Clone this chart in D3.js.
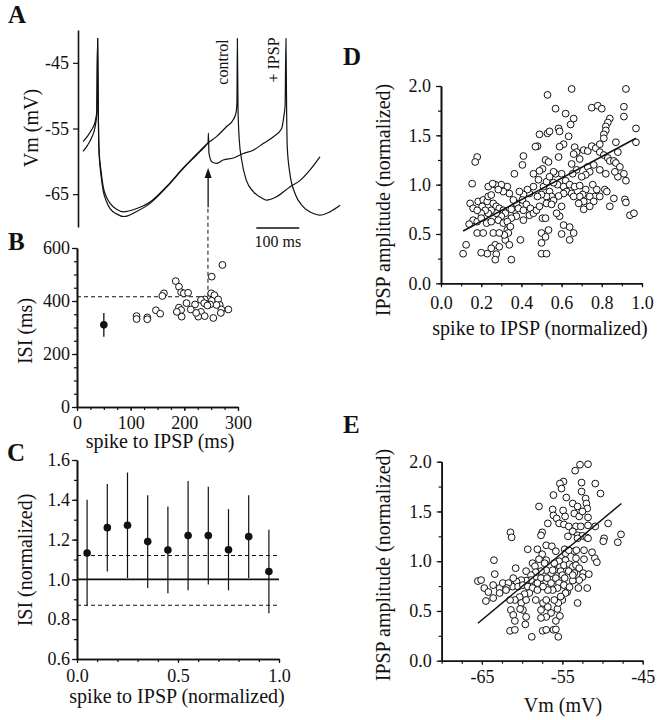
<!DOCTYPE html>
<html><head><meta charset="utf-8">
<script src="https://cdn.jsdelivr.net/npm/d3@7"></script>
<style>
body{margin:0;background:#fff}
svg{display:block}
text{font-family:"Liberation Serif","Times New Roman",serif;fill:#111}
</style>
</head><body>
<svg id="c" width="659" height="720"></svg>
<script>
// ---------- DATA ----------
// Panel A: membrane potential traces [time ms, Vm mV]
const controlTrace = [[0,-57.0],[10,-56.2],[20,-55.2],[28,-54.0],[32,-52.5],[34,-41.3],[35.5,-52],[37,-57.8],[42,-61.5],[47,-63.9],[55,-65.5],[63,-66.4],[78,-67.3],[95,-67.7],[104,-67.6],[120,-67.3],[156,-66.2],[195,-63.8],[233,-61.0],[272,-58.4],[291,-57.2],[311,-56.2],[334,-54.7],[350,-53.6],[356,-52.6],[358,-51],[359,-41.3],[360.5,-52],[363.5,-56.8],[369,-59.8],[380,-62.9],[396,-64.6],[419,-65.7],[427,-65.9],[450,-65.4],[481,-63.9],[505,-62.9],[528,-61.3],[551,-59.3]];
const ipspTrace = [[0,-58.5],[10,-57.6],[20,-56.4],[28,-54.8],[32,-52.8],[34,-41.3],[35.5,-52],[37,-58.2],[42,-62.2],[47,-64.5],[55,-66.2],[63,-67.2],[78,-68.0],[95,-68.4],[104,-68.3],[120,-67.8],[156,-66.4],[195,-63.9],[233,-61.1],[272,-58.5],[289,-57.3],[291,-57.1],[291.6,-55.7],[293,-58.8],[300,-60.1],[311,-60.3],[326,-59.8],[350,-59.5],[373,-58.8],[396,-58.3],[419,-57.3],[443,-56.25],[462,-55.0],[467,-53.2],[470,-51.5],[472,-41.3],[473.5,-52],[475,-57.8],[481,-61.8],[493,-64.9],[512,-66.9],[536,-67.95],[551,-68.2],[574,-67.7],[598,-66.7]];
const aTicks = [-45,-55,-65];
const aTickLabels = ["-45","-55","-65"];
const aIpspTime = 291;            // ms, time of IPSP (arrow)
const aArrowVm = [-67, -61];      // arrow shaft from / tip to (mV)
const aScaleBar = [403, 503];     // 100 ms scale bar (ms)
const aScaleBarVm = -70;

// Panel B: ISI vs spike-to-IPSP (ms)
const bOpen = [[271,536],[251,492],[184,475],[190,454],[194,433],[199,429],[207,431],[162,429],[159,419],[250,429],[256,422],[238,406],[231,404],[251,401],[263,406],[266,385],[282,368],[269,368],[260,385],[248,387],[237,392],[220,387],[204,392],[190,375],[194,366],[212,368],[231,359],[226,341],[238,343],[254,336],[268,355],[195,341],[147,365],[155,352],[111,343],[111,332],[131,338],[131,331],[186,359],[243,383],[222,355]];
const bControl = {x:50, y:310, err:45};
const bHighlight = [244, 416];

// Panel C: normalized ISI vs normalized spike-to-IPSP
const cX = [0.05,0.15,0.25,0.35,0.45,0.55,0.65,0.75,0.85,0.95];
const cMean = [1.133,1.26,1.272,1.19,1.148,1.22,1.22,1.149,1.215,1.04];
const cErr = [0.267,0.22,0.265,0.233,0.218,0.275,0.245,0.204,0.208,0.21];
const cBaseline = 1.0;
const cBand = [1.12, 0.87];

// Panel D: IPSP amplitude vs normalized spike-to-IPSP
const dPoints = [[0.53,1.91],[0.65,1.97],[0.92,1.97],[0.57,1.77],[0.75,1.78],[0.78,1.80],[0.80,1.77],[0.62,1.72],[0.66,1.67],[0.645,1.61],[0.91,1.79],[0.91,1.69],[0.84,1.67],[0.83,1.63],[0.82,1.59],[0.82,1.55],[0.81,1.51],[0.81,1.47],[0.49,1.51],[0.53,1.52],[0.54,1.54],[0.585,1.57],[0.59,1.54],[0.635,1.49],[0.61,1.41],[0.97,1.57],[0.97,1.43],[0.48,1.39],[0.47,1.385],[0.59,1.385],[0.585,1.28],[0.665,1.38],[0.675,1.33],[0.66,1.31],[0.69,1.26],[0.71,1.35],[0.73,1.34],[0.75,1.39],[0.77,1.37],[0.79,1.41],[0.79,1.33],[0.81,1.30],[0.83,1.27],[0.84,1.24],[0.86,1.24],[0.87,1.43],[0.88,1.33],[0.87,1.22],[0.89,1.18],[0.88,1.08],[0.91,1.11],[0.92,1.04],[0.82,1.11],[0.865,1.13],[0.79,1.15],[0.76,1.20],[0.73,1.18],[0.74,1.13],[0.72,1.10],[0.70,1.08],[0.675,1.15],[0.65,1.21],[0.655,1.11],[0.62,1.04],[0.60,1.11],[0.57,1.11],[0.56,1.13],[0.58,1.00],[0.61,0.98],[0.64,1.00],[0.625,0.93],[0.65,0.91],[0.665,0.98],[0.69,0.99],[0.72,0.95],[0.755,1.00],[0.775,0.95],[0.765,0.88],[0.74,0.88],[0.705,0.90],[0.69,0.88],[0.71,0.83],[0.71,0.75],[0.685,0.81],[0.66,0.88],[0.79,0.88],[0.815,0.95],[0.825,0.93],[0.86,0.86],[0.84,0.78],[0.915,0.85],[0.92,0.82],[0.94,0.69],[0.96,0.71],[0.76,0.83],[0.74,0.78],[0.61,0.91],[0.585,0.885],[0.60,0.78],[0.59,0.68],[0.61,0.59],[0.60,0.50],[0.64,0.57],[0.66,0.51],[0.64,0.44],[0.51,0.98],[0.525,1.03],[0.54,1.08],[0.56,1.02],[0.54,0.93],[0.55,0.88],[0.56,0.84],[0.525,0.88],[0.50,0.90],[0.48,0.88],[0.485,1.05],[0.505,1.16],[0.52,1.25],[0.535,1.23],[0.49,1.14],[0.46,1.11],[0.41,1.29],[0.405,1.20],[0.365,1.11],[0.46,0.98],[0.44,0.91],[0.43,0.95],[0.41,0.90],[0.405,0.845],[0.39,0.93],[0.375,0.81],[0.36,0.845],[0.365,0.74],[0.385,0.76],[0.41,0.74],[0.425,0.80],[0.445,0.76],[0.44,0.69],[0.46,0.71],[0.475,0.74],[0.49,0.78],[0.505,0.66],[0.52,0.66],[0.50,0.51],[0.52,0.47],[0.535,0.54],[0.50,0.41],[0.50,0.30],[0.525,0.30],[0.395,0.44],[0.41,0.64],[0.375,0.68],[0.35,0.66],[0.35,0.75],[0.34,0.91],[0.33,0.98],[0.31,0.93],[0.30,1.00],[0.27,1.00],[0.285,0.95],[0.235,0.98],[0.257,1.01],[0.155,1.01],[0.18,1.28],[0.17,1.23],[0.145,0.81],[0.16,0.76],[0.185,0.83],[0.21,0.845],[0.205,0.78],[0.23,0.83],[0.235,0.88],[0.25,0.895],[0.26,0.81],[0.275,0.78],[0.29,0.76],[0.31,0.74],[0.32,0.71],[0.30,0.68],[0.275,0.71],[0.25,0.74],[0.235,0.71],[0.22,0.74],[0.20,0.71],[0.18,0.74],[0.16,0.64],[0.18,0.625],[0.20,0.66],[0.227,0.61],[0.25,0.625],[0.285,0.64],[0.31,0.61],[0.33,0.54],[0.33,0.625],[0.345,0.575],[0.335,0.51],[0.32,0.44],[0.315,0.49],[0.34,0.39],[0.35,0.24],[0.18,0.51],[0.21,0.51],[0.14,0.60],[0.26,0.51],[0.29,0.51],[0.27,0.39],[0.25,0.355],[0.23,0.30],[0.275,0.295],[0.27,0.24],[0.20,0.31],[0.125,0.39],[0.11,0.30],[0.29,0.37],[0.575,0.71],[0.525,0.81],[0.55,0.80]];
const dFitX = [0.11, 0.97];
const dFitY = [0.53, 1.47];

// Panel E: IPSP amplitude vs Vm
const ePoints = [[-52.8,1.97],[-51.8,1.975],[-53.4,1.91],[-54.85,1.80],[-55.3,1.78],[-55.1,1.73],[-52.6,1.79],[-50.9,1.78],[-50.25,1.68],[-52.6,1.70],[-56.1,1.665],[-54.5,1.64],[-53.7,1.58],[-53.1,1.55],[-52.1,1.63],[-52.0,1.58],[-51.9,1.53],[-56.2,1.52],[-56.1,1.46],[-55.7,1.43],[-57.9,1.55],[-54.9,1.51],[-54.65,1.45],[-53.5,1.48],[-52.9,1.45],[-52.5,1.50],[-51.8,1.44],[-55.4,1.38],[-54.8,1.37],[-54.2,1.35],[-53.3,1.35],[-52.7,1.35],[-49.3,1.38],[-51.8,1.36],[-56.8,1.38],[-57.5,1.29],[-57.65,1.26],[-54.3,1.25],[-53.7,1.30],[-53.1,1.26],[-52.5,1.255],[-52.0,1.24],[-50.9,1.35],[-53.1,1.23],[-51.8,1.23],[-49.8,1.23],[-49.9,1.20],[-47.7,1.27],[-48.1,1.19],[-61.45,1.29],[-61.3,1.24],[-59.3,1.12],[-58.1,1.12],[-57.0,1.16],[-56.3,1.15],[-55.8,1.10],[-54.7,1.12],[-54.6,1.08],[-53.5,1.10],[-53.25,1.11],[-52.3,1.11],[-51.3,1.09],[-50.95,1.03],[-50.7,0.99],[-52.3,1.02],[-53.3,1.03],[-54.6,1.01],[-55.4,1.00],[-56.0,0.98],[-57.0,1.01],[-57.5,1.07],[-57.9,1.02],[-57.2,0.98],[-58.7,0.98],[-58.4,0.95],[-55.3,0.94],[-54.8,0.96],[-54.1,0.97],[-53.7,0.945],[-53.3,0.96],[-52.9,0.93],[-55.2,0.90],[-54.2,0.90],[-53.5,0.88],[-52.4,0.88],[-51.7,0.87],[-52.5,0.84],[-52.9,0.81],[-53.7,0.805],[-53.0,0.73],[-51.9,0.73],[-53.1,0.58],[-56.0,0.91],[-56.4,0.88],[-57.0,0.91],[-57.65,0.90],[-58.3,0.89],[-58.9,0.86],[-59.5,0.90],[-57.65,0.83],[-57.0,0.795],[-56.4,0.78],[-55.8,0.83],[-55.4,0.78],[-54.8,0.76],[-54.4,0.69],[-55.6,0.73],[-56.2,0.71],[-56.8,0.71],[-57.4,0.745],[-58.3,0.78],[-58.9,0.81],[-59.5,0.805],[-60.1,0.81],[-60.7,0.795],[-61.2,0.745],[-60.5,0.745],[-59.9,0.76],[-59.3,0.745],[-58.7,0.73],[-58.1,0.71],[-59.1,0.68],[-59.7,0.67],[-60.3,0.64],[-60.9,0.61],[-60.1,0.58],[-59.5,0.61],[-58.3,0.61],[-57.4,0.58],[-56.8,0.54],[-57.65,0.51],[-55.6,0.52],[-56.4,0.48],[-57.0,0.44],[-57.65,0.43],[-55.8,0.40],[-55.3,0.45],[-61.4,0.51],[-61.1,0.46],[-59.9,0.51],[-59.5,0.44],[-60.25,0.52],[-60.9,0.40],[-59.6,0.365],[-61.5,0.30],[-60.9,0.31],[-58.8,0.24],[-57.45,0.30],[-57.0,0.31],[-56.1,0.31],[-55.5,0.24],[-55.8,0.315],[-65.5,0.80],[-65.1,0.81],[-64.7,0.73],[-64.2,0.69],[-64.5,0.60],[-63.6,0.63],[-63.5,1.01],[-63.4,0.87],[-63.6,0.76],[-62.8,0.73],[-62.4,0.78],[-61.7,0.78],[-61.9,0.73],[-62.8,0.68],[-60.8,0.93],[-61.1,0.83],[-62.0,0.71],[-61.5,0.61],[-55.0,0.86],[-54.7,0.83],[-54.6,0.68],[-55.0,0.61],[-55.2,0.645],[-55.5,0.58],[-56.0,0.61],[-58.1,0.78],[-57.0,0.61],[-56.2,0.91],[-54.2,1.11],[-56.9,0.83],[-53.7,0.86],[-54.1,0.74]];
const eFitX = [-65.5, -47.65];
const eFitY = [0.376, 1.58];

// ---------- DRAW ----------
const svg = d3.select("#c");
const INK = "#111";
const TICK_FS = 18, TITLE_FS = 20;

function yAxis(scale, x, major, minor, fmt, gap){
  const gm = svg.append("g").attr("transform",`translate(${x},0)`);
  if(minor) gm.call(d3.axisLeft(scale).tickValues(minor).tickSize(3).tickSizeOuter(0).tickFormat(""));
  const g = svg.append("g").attr("transform",`translate(${x},0)`)
    .call(d3.axisLeft(scale).tickValues(major).tickSize(5).tickSizeOuter(0).tickPadding(gap-5).tickFormat(fmt));
  [gm,g].forEach(s=>{ s.selectAll(".domain").attr("stroke",INK).attr("stroke-width",1.6);
    s.selectAll(".tick line").attr("stroke",INK).attr("stroke-width",1.2);
    s.selectAll(".tick text").attr("font-size",TICK_FS).attr("font-family","Liberation Serif").attr("fill",INK);});
}
function xAxis(scale, y, major, minor, fmt, pad){
  const gm = svg.append("g").attr("transform",`translate(0,${y})`);
  if(minor) gm.call(d3.axisBottom(scale).tickValues(minor).tickSize(3).tickSizeOuter(0).tickFormat(""));
  const g = svg.append("g").attr("transform",`translate(0,${y})`)
    .call(d3.axisBottom(scale).tickValues(major).tickSize(4).tickSizeOuter(0).tickPadding(pad).tickFormat(fmt));
  [gm,g].forEach(s=>{ s.selectAll(".domain").attr("stroke",INK).attr("stroke-width",1.6);
    s.selectAll(".tick line").attr("stroke",INK).attr("stroke-width",1.2);
    s.selectAll(".tick text").attr("font-size",TICK_FS).attr("font-family","Liberation Serif").attr("fill",INK);});
}
function title(txt, x, y, rot, fs){
  svg.append("text").attr("transform",`translate(${x},${y}) rotate(${rot||0})`)
    .attr("text-anchor","middle").attr("dominant-baseline","middle")
    .attr("font-size",fs||TITLE_FS).text(txt);
}
function letter(txt,x,y){
  svg.append("text").attr("x",x).attr("y",y).attr("font-size",25).attr("font-weight","bold").text(txt);
}
const rng = (a,b,s)=>d3.range(a,b+s/2,s);

// ----- Panel A -----
const xA = d3.scaleLinear().domain([0,600]).range([83,341]);
const yA = d3.scaleLinear().domain([-70,-40]).range([227,30]);
yAxis(yA, 78, aTicks, null, (d,i)=>aTickLabels[i], 9);
const lineA = d3.line().x(d=>xA(d[0])).y(d=>yA(d[1])).curve(d3.curveMonotoneX);
[controlTrace, ipspTrace].forEach(tr=>{
  svg.append("path").attr("d",lineA(tr)).attr("fill","none").attr("stroke",INK).attr("stroke-width",1.2);
});
title("Vm (mV)", 33, 128, -90);
svg.append("text").attr("transform",`translate(${xA(359)-13},62) rotate(-90)`).attr("text-anchor","middle")
  .attr("dominant-baseline","middle").attr("font-size",16).text("control");
svg.append("text").attr("transform",`translate(${xA(472)-11},60) rotate(-90)`).attr("text-anchor","middle")
  .attr("dominant-baseline","middle").attr("font-size",16).text("+ IPSP");
svg.append("line").attr("x1",xA(aScaleBar[0])).attr("x2",xA(aScaleBar[1]))
  .attr("y1",yA(aScaleBarVm)+1).attr("y2",yA(aScaleBarVm)+1).attr("stroke",INK).attr("stroke-width",1.5);
svg.append("text").attr("x",(xA(aScaleBar[0])+xA(aScaleBar[1]))/2).attr("y",247).attr("text-anchor","middle")
  .attr("font-size",16).text("100 ms");
letter("A",8,23);

// ----- Panel B -----
const xB = d3.scaleLinear().domain([0,300]).range([77,238]);
const yB = d3.scaleLinear().domain([0,600]).range([407,248]);
yAxis(yB, 77, [0,200,400,600], rng(0,600,50), d3.format("d"), 7);
xAxis(xB, 407, [0,100,200,300], rng(0,300,25), d3.format("d"), 5);
title("ISI (ms)", 27, 331, -90);
title("spike to IPSP (ms)", 160, 443);
// dashed guides linking A and B
svg.append("line").attr("x1",xB(0)).attr("x2",xB(bHighlight[0])).attr("y1",yB(bHighlight[1])).attr("y2",yB(bHighlight[1]))
  .attr("stroke",INK).attr("stroke-width",1).attr("stroke-dasharray","4,3");
svg.append("line").attr("x1",xB(bHighlight[0])).attr("x2",xB(bHighlight[0])).attr("y1",yB(bHighlight[1])).attr("y2",yA(aArrowVm[0]))
  .attr("stroke",INK).attr("stroke-width",1).attr("stroke-dasharray","4,3");
svg.append("line").attr("x1",xA(aIpspTime)).attr("x2",xA(aIpspTime)).attr("y1",yA(aArrowVm[0])).attr("y2",yA(aArrowVm[1])+6)
  .attr("stroke",INK).attr("stroke-width",1.3);
{
  const ax = xA(aIpspTime), ay = yA(aArrowVm[1]);
  svg.append("path").attr("d",`M${ax},${ay} L${ax-3.5},${ay+10} L${ax+3.5},${ay+10} Z`).attr("fill",INK);
}
svg.append("g").selectAll("circle").data(bOpen).join("circle")
  .attr("cx",d=>xB(d[0])).attr("cy",d=>yB(d[1])).attr("r",3.4)
  .attr("fill","#fff").attr("stroke",INK).attr("stroke-width",1);
svg.append("line").attr("x1",xB(bControl.x)).attr("x2",xB(bControl.x))
  .attr("y1",yB(bControl.y-bControl.err)).attr("y2",yB(bControl.y+bControl.err)).attr("stroke",INK).attr("stroke-width",1.3);
svg.append("circle").attr("cx",xB(bControl.x)).attr("cy",yB(bControl.y)).attr("r",3.8).attr("fill",INK);
letter("B",8,250);

// ----- Panel C -----
const xC = d3.scaleLinear().domain([0,1]).range([77,279]);
const yC = d3.scaleLinear().domain([0.6,1.6]).range([659,460]);
yAxis(yC, 77, rng(0.6,1.6,0.2), rng(0.6,1.6,0.1), d3.format(".1f"), 7);
xAxis(xC, 659, [0,0.5,1], rng(0,1,0.1), d3.format(".1f"), 6);
title("ISI (normalized)", 27, 560, -90);
title("spike to IPSP (normalized)", 177, 698);
svg.append("line").attr("x1",xC(0)).attr("x2",xC(1)).attr("y1",yC(cBaseline)).attr("y2",yC(cBaseline))
  .attr("stroke",INK).attr("stroke-width",1.6);
cBand.forEach(v=>svg.append("line").attr("x1",xC(0)).attr("x2",xC(1)).attr("y1",yC(v)).attr("y2",yC(v))
  .attr("stroke",INK).attr("stroke-width",1).attr("stroke-dasharray","4,3"));
cX.forEach((x,i)=>{
  svg.append("line").attr("x1",xC(x)).attr("x2",xC(x)).attr("y1",yC(cMean[i]-cErr[i])).attr("y2",yC(cMean[i]+cErr[i]))
    .attr("stroke",INK).attr("stroke-width",1.2);
  svg.append("circle").attr("cx",xC(x)).attr("cy",yC(cMean[i])).attr("r",3.8).attr("fill",INK);
});
letter("C",7,461);

// ----- Panel D -----
const xD = d3.scaleLinear().domain([0,1]).range([441,642]);
const yD = d3.scaleLinear().domain([0,2]).range([283.3,86]);
yAxis(yD, 441, rng(0,2,0.5), rng(0,2,0.25), d3.format(".1f"), 10);
xAxis(xD, 283.3, rng(0,1,0.2), rng(0,1,0.1), d3.format(".1f"), 9);
title("IPSP amplitude (normalized)", 385, 200, -90);
title("spike to IPSP (normalized)", 540, 330);
svg.append("g").selectAll("circle").data(dPoints).join("circle")
  .attr("cx",d=>xD(d[0])).attr("cy",d=>yD(d[1])).attr("r",3.4)
  .attr("fill","#fff").attr("stroke",INK).attr("stroke-width",1);
svg.append("line").attr("x1",xD(dFitX[0])).attr("x2",xD(dFitX[1])).attr("y1",yD(dFitY[0])).attr("y2",yD(dFitY[1]))
  .attr("stroke",INK).attr("stroke-width",1.5);
letter("D",343,65);

// ----- Panel E -----
const xE = d3.scaleLinear().domain([-70,-45]).range([441.7,642.7]);
const yE = d3.scaleLinear().domain([0,2]).range([660.7,461.7]);
yAxis(yE, 441.7, rng(0,2,0.5), rng(0,2,0.25), d3.format(".1f"), 10);
xAxis(xE, 660.7, [-65,-55,-45], rng(-70,-45,2.5), d=>String(d).replace("\u2212","-"), 6);
title("IPSP amplitude (normalized)", 385, 565, -90);
title("Vm (mV)", 563, 707);
svg.append("g").selectAll("circle").data(ePoints).join("circle")
  .attr("cx",d=>xE(d[0])).attr("cy",d=>yE(d[1])).attr("r",3.4)
  .attr("fill","#fff").attr("stroke",INK).attr("stroke-width",1);
svg.append("line").attr("x1",xE(eFitX[0])).attr("x2",xE(eFitX[1])).attr("y1",yE(eFitY[0])).attr("y2",yE(eFitY[1]))
  .attr("stroke",INK).attr("stroke-width",1.5);
letter("E",343,433);
</script>
</body></html>
